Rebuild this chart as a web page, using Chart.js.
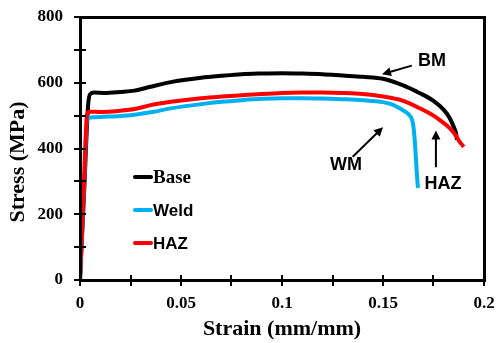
<!DOCTYPE html>
<html>
<head>
<meta charset="utf-8">
<script src="https://cdn.jsdelivr.net/npm/chart.js@4.4.1/dist/chart.umd.min.js"></script>
<style>
  html, body { margin: 0; padding: 0; background: #fff; }
</style>
</head>
<body>
<canvas id="chart" width="498" height="343"></canvas>
<script>
// Tensile curves: strain (mm/mm) vs stress (MPa)
const baseStrain = [0, 0.002, 0.004, 0.005, 0.007, 0.012, 0.02, 0.027, 0.035, 0.045, 0.06, 0.07, 0.08, 0.09, 0.1, 0.11, 0.12, 0.13, 0.14, 0.15, 0.16, 0.168, 0.175, 0.18, 0.183, 0.185, 0.1862, 0.1866];
const baseStress = [0, 260, 530, 565, 570, 569, 572, 576, 588, 602, 615, 621, 626, 628, 629, 628, 626, 622, 618, 612, 592, 569, 545, 518, 493, 466, 445, 426];

const weldStrain = [0, 0.002, 0.0035, 0.005, 0.01, 0.02, 0.027, 0.035, 0.045, 0.06, 0.07, 0.08, 0.09, 0.1, 0.11, 0.12, 0.13, 0.14, 0.15, 0.155, 0.158, 0.161, 0.163, 0.1645, 0.1652, 0.166, 0.1667, 0.1673];
const weldStress = [0, 290, 488, 494, 496, 499, 503, 510, 522, 535, 542, 547, 551, 553, 553, 552, 550, 547, 541, 533, 523, 512, 502, 485, 460, 400, 330, 280];

const hazStrain = [0, 0.002, 0.0035, 0.005, 0.01, 0.02, 0.027, 0.035, 0.045, 0.06, 0.07, 0.08, 0.09, 0.1, 0.11, 0.12, 0.13, 0.14, 0.15, 0.16, 0.168, 0.175, 0.178, 0.183, 0.186, 0.188, 0.19];
const hazStress = [0, 300, 505, 512, 511, 515, 520, 532, 542, 553, 558, 562, 566, 569, 570, 570, 569, 566, 558, 545, 523, 500, 487, 462, 440, 420, 405];

const seriesNames = ['Base', 'Weld', 'HAZ'];
const seriesColors = ['#000000', '#00b0f0', '#ff0000'];

// major ticks carry labels, minor ticks sit halfway between
const xTicks = [0, 0.025, 0.05, 0.075, 0.1, 0.125, 0.15, 0.175, 0.2];
const xLabels = ['0', '', '0.05', '', '0.1', '', '0.15', '', '0.2'];
const yTicks = [0, 100, 200, 300, 400, 500, 600, 700, 800];
const yLabels = ['0', '', '200', '', '400', '', '600', '', '800'];

function toPoints(xs, ys) {
    return xs.map((x, i) => ({ x: x, y: ys[i] }));
}

// legend, arrow labels, y title, frame and crossing ticks
const decorPlugin = {
    id: 'decor',
    afterDraw(chart) {
        const g = chart.ctx;
        const xs = chart.scales.x;
        const ys = chart.scales.y;
        const X = v => xs.getPixelForValue(v);
        const Y = v => ys.getPixelForValue(v);
        g.save();
        g.setLineDash([]);

        // legend
        const legendY = [177, 210, 243];
        const legendFonts = ['bold 19px "Liberation Serif"', 'bold 17px "Liberation Sans"', 'bold 17px "Liberation Sans"'];
        seriesNames.forEach((name, i) => {
            g.strokeStyle = seriesColors[i];
            g.lineWidth = 4;
            g.lineCap = 'round';
            g.beginPath();
            g.moveTo(135, legendY[i]);
            g.lineTo(151, legendY[i]);
            g.stroke();
            g.fillStyle = '#000';
            g.font = legendFonts[i];
            g.textBaseline = 'middle';
            g.textAlign = 'left';
            g.fillText(name, 153, legendY[i] + 1);
        });

        // arrows
        function arrow(x1, y1, x2, y2) {
            const ang = Math.atan2(y2 - y1, x2 - x1);
            const hl = 9, hw = 4.5;
            g.strokeStyle = '#000';
            g.fillStyle = '#000';
            g.lineWidth = 2;
            g.lineCap = 'butt';
            g.beginPath();
            g.moveTo(x1, y1);
            g.lineTo(x2 - Math.cos(ang) * hl * 0.8, y2 - Math.sin(ang) * hl * 0.8);
            g.stroke();
            g.beginPath();
            g.moveTo(x2, y2);
            g.lineTo(x2 - Math.cos(ang) * hl - Math.sin(ang) * hw, y2 - Math.sin(ang) * hl + Math.cos(ang) * hw);
            g.lineTo(x2 - Math.cos(ang) * hl + Math.sin(ang) * hw, y2 - Math.sin(ang) * hl - Math.cos(ang) * hw);
            g.closePath();
            g.fill();
        }
        arrow(X(0.1643), Y(652), X(0.1495), Y(626));
        arrow(X(0.135), Y(375), X(0.150), Y(465));
        arrow(X(0.1762), Y(343), X(0.1762), Y(455));

        g.font = 'bold 18px "Liberation Sans"';
        g.fillStyle = '#000';
        g.textBaseline = 'middle';
        g.textAlign = 'center';
        g.fillText('BM', X(0.1743), Y(665));
        g.fillText('WM', X(0.1317), Y(350));
        g.fillText('HAZ', X(0.1797), Y(292));

        // y axis title
        g.save();
        g.translate(18, 162);
        g.rotate(-Math.PI / 2);
        g.font = 'bold 22px "Liberation Serif"';
        g.fillText('Stress (MPa)', 0, 0);
        g.restore();

        // frame as filled bars
        const left = Math.round(X(0)), right = Math.round(X(0.2));
        const top = Math.round(Y(800)), bottom = Math.round(Y(0));
        g.fillStyle = '#000';
        g.fillRect(left - 1, top - 1, right - left + 3, 3);
        g.fillRect(left - 1, bottom - 1, right - left + 3, 3);
        g.fillRect(left - 1, top - 1, 3, bottom - top + 3);
        g.fillRect(right - 1, top - 1, 3, bottom - top + 3);

        // tick marks crossing the axes
        xTicks.forEach(v => {
            g.fillRect(Math.round(X(v)) - 1, bottom - 5, 2, 11);
        });
        yTicks.forEach(v => {
            g.fillRect(left - 6, Math.round(Y(v)) - 1, 12, 2);
        });
        g.restore();
    }
};

const chart = new Chart(document.getElementById('chart'), {
    type: 'scatter',
    data: {
        datasets: [
            { label: seriesNames[0], data: toPoints(baseStrain, baseStress), borderColor: seriesColors[0], order: 3 },
            { label: seriesNames[1], data: toPoints(weldStrain, weldStress), borderColor: seriesColors[1], order: 2 },
            { label: seriesNames[2], data: toPoints(hazStrain, hazStress), borderColor: seriesColors[2], order: 1 }
        ].map(d => Object.assign(d, {
            showLine: true,
            pointRadius: 0,
            borderWidth: 4,
            cubicInterpolationMode: 'monotone',
            fill: false
        }))
    },
    options: {
        responsive: false,
        animation: false,
        layout: { padding: { left: 0, right: 14, top: 17, bottom: 0 } },
        plugins: {
            legend: { display: false },
            tooltip: { enabled: false }
        },
        scales: {
            x: {
                type: 'linear',
                position: 'bottom',
                min: 0,
                max: 0.2,
                afterFit(scale) {
                    scale.height = 63;
                    scale.paddingLeft = 0;
                    scale.paddingRight = 0;
                },
                afterBuildTicks(scale) { scale.ticks = xTicks.map(v => ({ value: v })); },
                grid: { display: true, drawOnChartArea: false, drawTicks: true, tickLength: 5, color: '#000', lineWidth: 2 },
                border: { display: true, color: '#000', width: 2.5 },
                ticks: {
                    padding: 8,
                    color: '#000',
                    font: { family: '"Liberation Serif"', size: 17, weight: 'bold' },
                    maxRotation: 0,
                    autoSkip: false,
                    callback: (v, i) => xLabels[i]
                },
                title: {
                    display: true,
                    text: 'Strain (mm/mm)',
                    color: '#000',
                    font: { family: '"Liberation Serif"', size: 22, weight: 'bold' },
                    padding: { top: 0, bottom: 0 }
                }
            },
            y: {
                type: 'linear',
                position: 'left',
                min: 0,
                max: 800,
                afterFit(scale) {
                    scale.width = 80;
                    scale.paddingTop = 0;
                    scale.paddingBottom = 0;
                },
                afterBuildTicks(scale) { scale.ticks = yTicks.map(v => ({ value: v })); },
                grid: { display: true, drawOnChartArea: false, drawTicks: true, tickLength: 6, color: '#000', lineWidth: 2 },
                border: { display: true, color: '#000', width: 2.5 },
                ticks: {
                    padding: 11,
                    color: '#000',
                    autoSkip: false,
                    font: { family: '"Liberation Serif"', size: 17, weight: 'bold' },
                    callback: (v, i) => yLabels[i]
                },
                title: { display: false }
            }
        }
    },
    plugins: [decorPlugin]
});
</script>
</body>
</html>
